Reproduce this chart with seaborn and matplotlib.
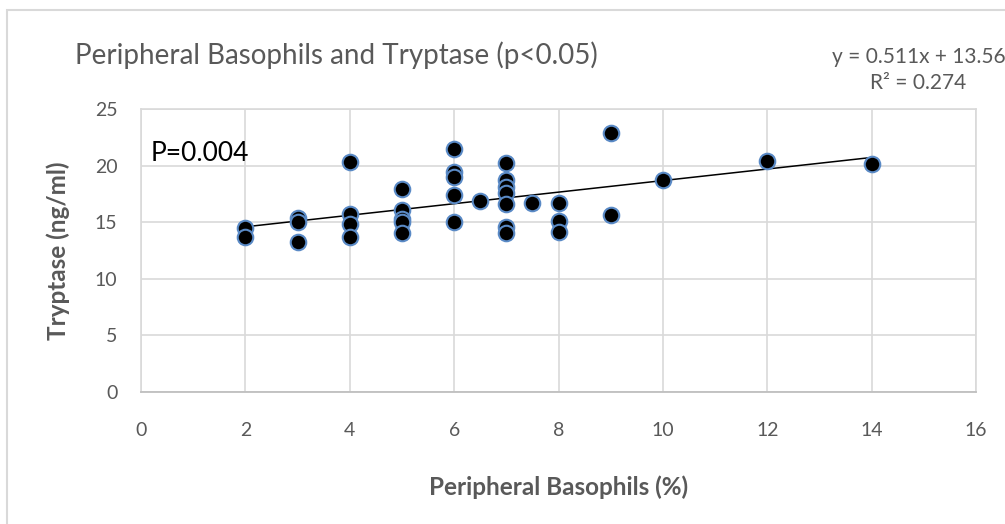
import numpy as np
import pandas as pd
import matplotlib.pyplot as plt
import seaborn as sns
from matplotlib.patches import Rectangle

# values
basophils = [2, 2, 3, 3, 3, 4, 4, 4, 4, 5, 5, 5, 5, 5, 6, 6, 6, 6, 6, 6.5,
             7, 7, 7, 7, 7, 7, 7, 7.5, 8, 8, 8, 9, 9, 10, 12, 14]
tryptase = [14.5, 13.7, 15.4, 15.0, 13.2, 20.3, 15.7, 14.8, 13.7,
            17.9, 16.1, 15.3, 15.0, 14.0, 21.5, 19.4, 19.0, 17.4, 15.0, 16.9,
            20.2, 18.7, 18.1, 17.6, 16.6, 14.6, 14.0, 16.7, 16.7, 15.1, 14.1,
            22.9, 15.6, 18.7, 20.4, 20.1]
slope = 0.511
intercept = 13.56
r_squared = 0.274
p_value = "P=0.004"
x_ticks = [0, 2, 4, 6, 8, 10, 12, 14, 16]
y_ticks = [0, 5, 10, 15, 20, 25]

df = pd.DataFrame({"basophils": basophils, "tryptase": tryptase})
trend_x = np.array([min(basophils), max(basophils)])
trend = pd.DataFrame({"x": trend_x, "y": slope * trend_x + intercept})

sns.set_style("white")
plt.rcParams['font.family'] = ['Lato', 'DejaVu Sans']

grey = "#595959"
grid = "#d9d9d9"

fig = plt.figure(figsize=(10.05, 5.24), dpi=100)
W, H = 1005, 524
ax = fig.add_axes([141 / W, 1 - 391.7 / H, (976 - 141) / W, (391.7 - 109) / H])

# outer chart border
fig.patches.append(Rectangle((7 / W, -0.1), 1.1, 1 - 10 / H + 0.1, transform=fig.transFigure,
                             fill=False, edgecolor=grid, linewidth=1.5))

sns.lineplot(data=trend, x="x", y="y", ax=ax, color="black", linewidth=1.1, zorder=2)
sns.scatterplot(data=df, x="basophils", y="tryptase", ax=ax, s=125, color="black",
                edgecolor="#5a8ac6", linewidth=1.5, zorder=3)

ax.set_xlim(0, 16)
ax.set_ylim(0, 25)
ax.set_xticks(x_ticks)
ax.set_yticks(y_ticks)
ax.grid(True, color=grid, linewidth=1.2)
ax.set_axisbelow(True)
for side in ["top", "right", "left"]:
    ax.spines[side].set_color(grid)
    ax.spines[side].set_linewidth(1.2)
ax.spines["bottom"].set_color("#bfbfbf")
ax.spines["bottom"].set_linewidth(1.3)
ax.tick_params(axis="both", length=0, labelsize=14, labelcolor=grey)
ax.tick_params(axis="x", pad=22)
ax.tick_params(axis="y", pad=17)

ax.set_xlabel("Peripheral Basophils (%)", fontsize=17.5, fontweight="bold", color=grey, labelpad=26)
ax.set_ylabel("Tryptase (ng/ml)", fontsize=17.5, fontweight="bold", color=grey, labelpad=18)

fig.text(75 / W, 1 - 55 / H, "Peripheral Basophils and Tryptase (p<0.05)", fontsize=20,
         color=grey, va="center", ha="left")
fig.text(832 / W, 1 - 57 / H, f"y = {slope}x + {intercept}", fontsize=15,
         color=grey, va="center", ha="left")
fig.text(918 / W, 1 - 83 / H, f"R² = {r_squared}", fontsize=15,
         color=grey, va="center", ha="center")
ax.text(0.19, 21.1, p_value, fontsize=19, color="black", va="center", ha="left")

fig.savefig("out.png", dpi=100)
